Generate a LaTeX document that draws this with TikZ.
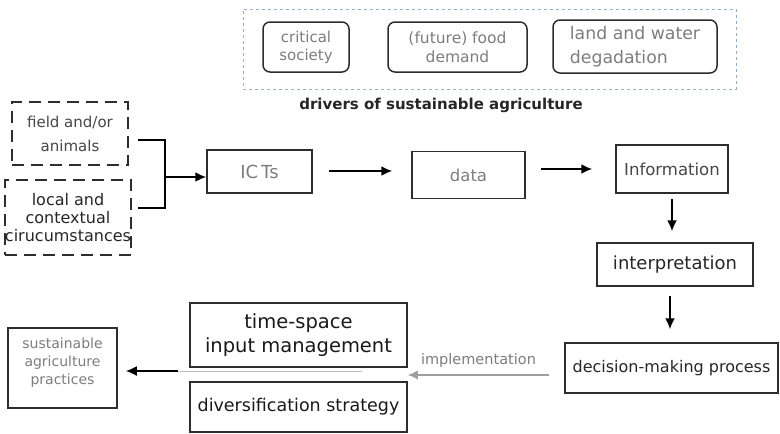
\documentclass[tikz,border=0pt]{standalone}
\usepackage{fontspec}
\setmainfont{DejaVu Sans}
\usetikzlibrary{arrows.meta,calc}
\definecolor{frame}{RGB}{150,175,200}
\definecolor{txtg}{RGB}{125,125,125}
\definecolor{txtd}{RGB}{70,70,70}
\definecolor{edge}{RGB}{45,45,45}
\tikzset{
  box/.style={draw=edge,line width=1.5pt,align=center,inner sep=1pt},
  rbox/.style={box,rounded corners=7pt,text=txtg},
  dbox/.style={box,dashed,dash pattern=on 12pt off 7pt},
  arr/.style={line width=1.8pt,-{Latex[length=11pt,width=10pt]}},
}
\newcommand{\fs}[2]{\fontsize{#1}{#2}\selectfont}
\begin{document}
\begin{tikzpicture}[x=1pt,y=-1pt]
\useasboundingbox (0,0) rectangle (780,434);
% drivers frame
\node[draw=frame,line width=1pt,dashed,minimum width=493pt,minimum height=80pt] (drv) at (489.5,49) {};
\node[rbox,minimum width=86pt,minimum height=50pt,font=\fs{15}{18}] (cs) at (306,47) {critical\\society};
\node[rbox,minimum width=139pt,minimum height=50pt,font=\fs{15.5}{19}] (fd) at (457.5,47) {(future) food\\demand};
\node[rbox,minimum width=164pt,minimum height=53pt,font=\fs{17.3}{24},align=left] (lw) at (635,46.5) {land and water\\degadation};
\node[font=\fs{15}{17}\bfseries,text=black!85] (title) at (441,105) {drivers of sustainable agriculture};
% left inputs
\node[dbox,minimum width=116pt,minimum height=63pt,font=\fs{15}{24},text=txtd] (fa) at (70,133.5) {field and/or\\animals};
\node[dbox,minimum width=120pt,minimum height=75pt,font=\fs{16}{18},text=black!85,inner sep=0pt] (lc) at (68,217.5) {local and\\contextual\\cirucumstances};
\coordinate (b1) at (138,140);
\coordinate (b2) at (138,208);
\coordinate (bj) at (165,177);
\draw[line width=1.6pt] (b1) -| (bj) |- (b2);
% chain
\node[box,minimum width=105pt,minimum height=43pt,font=\fs{18}{20},text=txtg] (ict) at (259.5,171.5) {IC\,Ts};
\node[box,minimum width=113pt,minimum height=47pt,font=\fs{16.5}{18},text=txtg] (data) at (468.5,175) {data};
\node[box,minimum width=112pt,minimum height=48pt,font=\fs{16.5}{18},text=txtd] (info) at (672,169) {Information};
\node[box,minimum width=156pt,minimum height=43pt,font=\fs{18}{20},text=black!85] (interp) at (675,264.5) {interpretation};
\node[box,minimum width=213pt,minimum height=50pt,font=\fs{16}{18},text=black!85] (dmp) at (671.5,368) {decision-making process};
\node[box,minimum width=217pt,minimum height=64pt,font=\fs{19.5}{24},text=black!90] (tsm) at (298.5,335) {time-space\\input management};
\node[box,minimum width=217pt,minimum height=50pt,font=\fs{17.5}{20},text=black!90] (div) at (298.5,407) {diversification strategy};
\node[box,minimum width=109pt,minimum height=80pt,font=\fs{14}{18},text=txtg] (sap) at (62.5,368) {sustainable\\agriculture\\practices\\[-4pt]};
% connectors
\draw[arr] (bj) -- (ict.west |- bj);
\draw[arr] ([xshift=16pt]ict.east |- 0,171) -- ([xshift=-19pt]data.west |- 0,171);
\draw[arr] ([xshift=15pt]data.east |- info.west) -- ([xshift=-23pt]info.west);
\draw[arr] ([yshift=-5pt]info.south) -- ([yshift=11pt]interp.north -| info.south);
\draw[arr] ([yshift=-9pt]interp.south -| 670,0) -- ([yshift=13pt]dmp.north -| 670,0);
\coordinate (impl) at ([xshift=-15pt]dmp.west |- 0,375);
\draw[line width=1.3pt,draw=gray!75,-{Latex[length=10pt,width=9pt]}] (impl) -- (tsm.east |- impl) node[midway,above=4pt,font=\fs{14.5}{16},text=txtg] {implementation};
\coordinate (g1) at (362,371);
\coordinate (g2) at (178,371);
\draw[line width=0.6pt,draw=gray!50] (g1) -- (g2);
\draw[arr] (g2) -- ([xshift=8pt]sap.east |- g2);
\end{tikzpicture}
\end{document}
